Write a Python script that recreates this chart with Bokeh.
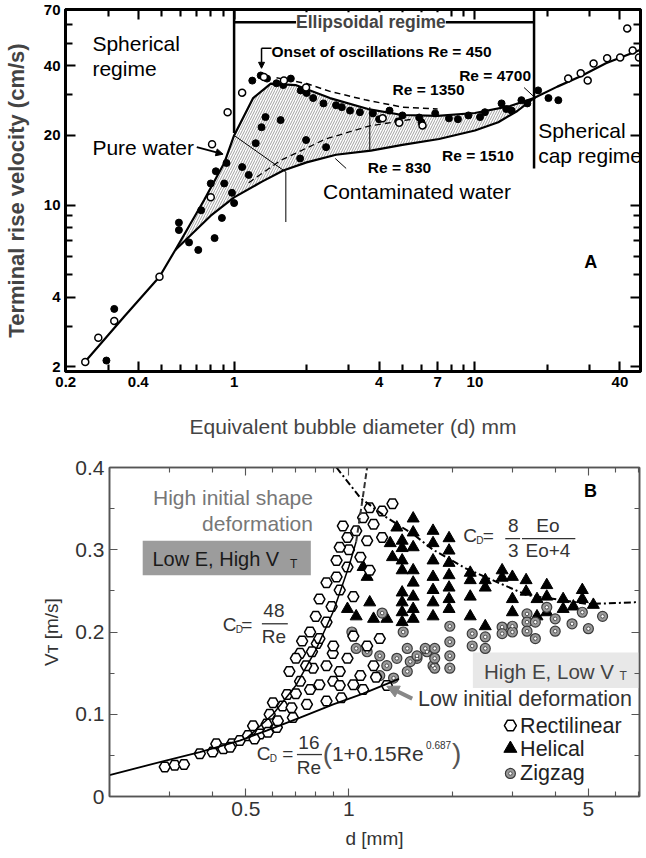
import numpy as np
from bokeh.plotting import figure
from bokeh.models import (LogAxis, LinearAxis, FixedTicker, Label, Arrow,
                          NormalHead, Range1d, CustomJSTickFormatter)
from bokeh.layouts import column
from bokeh.embed import file_html
from bokeh.resources import INLINE
from bokeh.core.properties import value

NARROW = "Liberation Sans Narrow, Liberation Sans, Arial"
SANS = "Liberation Sans, Arial"

# ---------------- Panel A data (d in mm, v in cm/s) ----------------
a_shared_d = [0.24, 0.35, 0.49, 0.57]
a_shared_v = [2.1, 3.3, 4.9, 6.4]
a_pure_d = [0.57, 0.75, 0.91, 1.0, 1.2, 1.42, 1.8, 2.5, 3.6, 5.0, 7.0, 10.0, 14.0, 17.6]
a_pure_v = [6.4, 10.5, 15.2, 20.0, 29.0, 33.5, 33.0, 29.0, 26.0, 24.5, 24.3, 25.0, 26.8, 29.0]
a_contam_d = [0.57, 0.8, 1.0, 1.3, 1.6, 2.0, 2.65, 3.7, 5.0, 7.1, 10.0, 12.5, 15.0, 17.6]
a_contam_v = [6.4, 9.0, 10.8, 12.6, 14.1, 15.3, 16.5, 17.2, 18.2, 19.3, 21.0, 22.8, 25.5, 29.0]
a_cap_d = [17.6, 22.0, 27.5, 35.0, 49.0]
a_cap_v = [29.0, 32.5, 36.0, 41.0, 47.0]
a_dash_top_d = [1.5, 2.0, 2.5, 3.5, 5.0, 7.0]
a_dash_top_v = [35.5, 33.5, 31.0, 28.5, 26.5, 26.0]
a_dash_mid_d = [1.15, 1.56, 2.4, 3.66, 5.5]
a_dash_mid_v = [12.5, 15.6, 19.3, 22.0, 23.5]

a_fill_d = [0.295, 0.318, 0.59, 0.59, 0.65, 0.71, 0.83, 0.73, 0.80, 0.91, 0.84, 0.93, 0.89, 1.0, 0.98,
            1.19, 1.29, 1.37, 1.50, 1.72, 1.89, 2.13, 2.35, 2.65, 3.03, 3.33,
            1.35, 1.56, 1.30, 1.23, 1.08, 1.15, 1.88, 2.41, 1.99,
            3.77, 4.42, 5.0, 5.87, 6.84, 7.8, 9.4, 11.0, 12.9, 14.2, 15.6,
            18.3, 20.2, 22.2,
            1.6, 2.0, 2.8, 4.0, 4.8, 6.0, 8.5, 10.5, 13.5, 16.5]
a_fill_v = [2.13, 3.56, 8.4, 7.8, 6.9, 6.4, 7.2, 9.5, 12.4, 12.4, 14.0, 15.2, 8.8, 10.2, 11.3,
            34.5, 36.3, 35.2, 33.6, 35.2, 31.3, 29.0, 27.5, 27.0, 25.6, 25.2,
            24.0, 23.3, 21.7, 18.5, 14.6, 13.5, 15.9, 17.8, 19.1,
            24.9, 25.6, 24.4, 23.9, 24.9, 23.7, 24.4, 25.2, 27.5, 25.6, 28.4,
            31.3, 29.0, 28.4,
            33.0, 30.5, 26.5, 23.5, 23.0, 22.8, 23.5, 24.0, 26.0, 27.5]
a_open_d = [0.241, 0.273, 0.318, 0.49, 0.80, 0.81, 1.08, 0.94, 1.33, 1.61, 1.99, 4.14, 6.06, 4.85,
            24.4, 27.5, 31.1, 35.4, 40.1, 45.2, 48.0, 42.9, 29.4]
a_open_v = [2.1, 2.67, 3.16, 4.9, 10.8, 18.3, 30.6, 25.2, 35.8, 34.5, 32.2, 23.7, 22.1, 22.7,
            35.2, 37.1, 40.9, 43.1, 43.4, 46.6, 43.4, 58.0, 34.5]

a_regime_d = [1.0, 17.6]
a_regime_end_v = [20.5, 14.4]
a_bracket_v = 61.6

xA_major = [0.2, 0.4, 1, 4, 7, 10, 40]
xA_minor = [0.3, 0.5, 0.6, 0.7, 0.8, 0.9, 2, 3, 5, 6, 8, 9, 20, 30]
yA_major = [2, 4, 10, 20, 40, 70]
yA_minor = [3, 5, 6, 7, 8, 9, 30, 50, 60]

# ---------------- Panel B data (d in mm, V in m/s) ----------------
b_rect_d = [0.29, 0.31, 0.33, 0.367, 0.40, 0.41, 0.43, 0.455, 0.48, 0.507, 0.525, 0.55, 0.575, 0.587,
            0.616, 0.60, 0.64, 0.66, 0.686, 0.67, 0.72, 0.754, 0.72, 0.785, 0.82, 0.86, 0.90, 0.94,
            0.806, 0.897, 1.03,
            1.34, 1.25, 1.15, 1.10, 1.18, 1.05, 0.99, 0.96, 1.13, 1.25, 1.0, 1.08, 0.94, 0.92, 0.99,
            1.15, 0.92, 0.86, 0.94, 1.03, 0.82, 0.89, 0.80, 0.86, 0.77, 0.82, 0.73, 0.78, 0.70, 0.75,
            0.90, 1.03, 1.13, 1.23, 0.99, 0.86, 1.08, 0.94, 1.29, 1.18,
            0.62, 0.68, 0.58, 0.53, 0.45, 0.70, 0.77, 0.95, 1.1, 1.2]
b_rect_v = [0.036, 0.038, 0.039, 0.052, 0.054, 0.064, 0.058, 0.064, 0.068, 0.074, 0.086, 0.076, 0.088, 0.10,
            0.084, 0.114, 0.11, 0.124, 0.096, 0.152, 0.14, 0.112, 0.174, 0.156, 0.136, 0.116, 0.14, 0.152,
            0.186, 0.174, 0.136,
            0.356, 0.347, 0.351, 0.339, 0.331, 0.323, 0.315, 0.329, 0.311, 0.315, 0.30, 0.291, 0.303, 0.287, 0.279,
            0.275, 0.267, 0.26, 0.251, 0.243, 0.24, 0.231, 0.219, 0.212, 0.20, 0.192, 0.189, 0.176, 0.168, 0.159,
            0.183, 0.195, 0.183, 0.192, 0.168, 0.159, 0.147, 0.135, 0.135, 0.159,
            0.092, 0.108, 0.078, 0.07, 0.06, 0.125, 0.13, 0.12, 0.13, 0.145]
b_helix_d = [1.43] * 8 + [1.54] * 8 + [1.76] * 7 + \
            [0.99, 1.05, 1.15, 1.29, 1.18, 1.10, 1.13, 1.32, 1.34, 1.38] + \
            [1.96] * 7 + [2.26] * 4 + [2.50] * 3 + [2.80] * 2 + [3.0] * 3 + [3.29] * 2 + \
            [3.54] * 2 + [3.78] * 3 + [4.22] * 2 + [4.52] + [4.80] * 2 + [5.17]
b_helix_v = [0.311, 0.302, 0.287, 0.275, 0.248, 0.236, 0.224, 0.212,
             0.338, 0.321, 0.303, 0.275, 0.26, 0.243, 0.228, 0.216,
             0.323, 0.308, 0.287, 0.267, 0.251, 0.236, 0.219,
             0.228, 0.219, 0.236, 0.216, 0.216, 0.279, 0.267, 0.308, 0.291, 0.327,
             0.314, 0.299, 0.284, 0.269, 0.254, 0.240, 0.228,
             0.272, 0.263, 0.243, 0.219,
             0.263, 0.254, 0.207,
             0.275, 0.266,
             0.267, 0.24, 0.224,
             0.263, 0.249,
             0.24, 0.219,
             0.257, 0.243, 0.224,
             0.24, 0.228,
             0.231,
             0.251, 0.24,
             0.233]
b_zig_d = [1.25, 1.02, 1.05, 1.13, 1.23, 1.29, 1.38, 1.48, 1.58, 1.48, 1.35, 1.23, 1.69, 1.76, 1.44,
           1.51, 1.67, 1.58,
           1.78, 1.78, 1.78, 1.97, 1.97, 1.97, 1.97, 2.29, 2.29, 2.50, 2.50, 2.80, 2.80, 3.0, 3.0,
           3.31, 3.31, 3.31, 3.5, 3.5, 3.78, 4.0, 4.0, 4.48, 4.8, 5.0, 5.5]
b_zig_v = [0.223, 0.20, 0.18, 0.176, 0.171, 0.159, 0.168, 0.18, 0.168, 0.152, 0.144, 0.147, 0.176, 0.159, 0.20,
           0.164, 0.18, 0.171,
           0.18, 0.168, 0.156, 0.207, 0.188, 0.171, 0.156, 0.198, 0.183, 0.194, 0.18, 0.206, 0.198, 0.207, 0.20,
           0.222, 0.212, 0.201, 0.212, 0.192, 0.23, 0.216, 0.201, 0.21, 0.224, 0.204, 0.219]

b_std_d = [0.2, 0.294, 0.367, 0.48, 0.575, 0.72, 0.9, 1.1, 1.4]
b_std_v = [0.026, 0.044, 0.054, 0.068, 0.080, 0.096, 0.112, 0.125, 0.143]
b_48_d = [0.5, 0.6, 0.7, 0.8, 0.9, 1.0, 1.05]
b_48_v = [0.07, 0.1, 0.135, 0.178, 0.225, 0.28, 0.31]
b_48dash_d = [1.05, 1.09, 1.13]
b_48dash_v = [0.31, 0.355, 0.40]
b_eo_d = [0.92, 1.08, 1.29, 1.55, 1.76, 2.2, 3.3, 5.0, 6.8, 7.0]
b_eo_v = [0.40, 0.363, 0.339, 0.318, 0.30, 0.277, 0.245, 0.234, 0.236, 0.237]

xB_major = [0.5, 1, 5]
xB_minor = [0.2, 0.3, 0.4, 0.6, 0.7, 0.8, 0.9, 2, 3, 4, 6, 7]
yB_major = [0, 0.1, 0.2, 0.3, 0.4]
yB_minor = [0.05, 0.15, 0.25, 0.35]

legend_labels = ["Rectilinear", "Helical", "Zigzag"]


def put(p, x, y, s, size, color="black", font=SANS, style="normal",
        align="left", baseline="middle", xo=0, yo=0):
    p.text(x=[x], y=[y], text=[s], text_font=value(font),
           text_font_size=value(f"{size}px"), text_font_style=value(style),
           text_color=color, text_align=value(align), text_baseline=value(baseline),
           x_offset=xo, y_offset=yo)


def style_axis(ax, lw, color, tin, tmin, font, fsize, fstyle, fcolor, standoff):
    ax.axis_line_width = lw
    ax.axis_line_color = color
    ax.major_tick_in = tin
    ax.major_tick_out = 0
    ax.minor_tick_in = tmin
    ax.minor_tick_out = 0
    ax.major_tick_line_width = lw * 0.7
    ax.minor_tick_line_width = lw * 0.7
    ax.major_tick_line_color = color
    ax.minor_tick_line_color = color
    ax.major_label_text_font = font
    ax.major_label_text_font_size = fsize
    ax.major_label_text_font_style = fstyle
    ax.major_label_text_color = fcolor
    ax.major_label_standoff = standoff


def hidden_axis(cls, ticks, minor, lw, color, tin, tmin):
    ax = cls(ticker=FixedTicker(ticks=ticks, minor_ticks=minor))
    style_axis(ax, lw, color, tin, tmin, SANS, "0px", "normal", None, 0)
    ax.formatter = CustomJSTickFormatter(code="return '';")
    return ax


def no_align(p):
    if "frame_align" in p.properties():
        p.frame_align = False


fmt = "return tick.toString();"

# ================= Panel A =================
pA = figure(width=646, height=440, x_axis_type="log", y_axis_type="log",
            x_range=Range1d(0.1995, 48.7), y_range=Range1d(1.91, 70.0),
            output_backend="svg", toolbar_location=None,
            min_border_left=60, min_border_right=6, min_border_top=9, min_border_bottom=68)
no_align(pA)
pA.grid.visible = False
pA.outline_line_color = "black"
pA.outline_line_width = 3

pA.xaxis.ticker = FixedTicker(ticks=xA_major, minor_ticks=xA_minor)
pA.yaxis.ticker = FixedTicker(ticks=yA_major, minor_ticks=yA_minor)
pA.xaxis.formatter = CustomJSTickFormatter(code=fmt)
pA.yaxis.formatter = CustomJSTickFormatter(code=fmt)
for ax in (pA.xaxis[0], pA.yaxis[0]):
    style_axis(ax, 3, "black", 10, 7, NARROW, "15px", "bold", "black", 5)
pA.xaxis.axis_label = "Equivalent bubble diameter (d) mm"
pA.xaxis.axis_label_text_font = SANS
pA.xaxis.axis_label_text_font_size = "21px"
pA.xaxis.axis_label_text_font_style = "normal"
pA.xaxis.axis_label_standoff = 25
pA.yaxis.axis_label = "Terminal rise velocity (cm/s)"
pA.yaxis.axis_label_text_font = SANS
pA.yaxis.axis_label_text_font_size = "22px"
pA.yaxis.axis_label_text_font_style = "bold"
pA.yaxis.axis_label_standoff = 12
pA.add_layout(hidden_axis(LogAxis, xA_major, xA_minor, 3, "black", 10, 7), "above")
pA.add_layout(hidden_axis(LogAxis, yA_major, yA_minor, 3, "black", 10, 7), "right")

# hatched band between pure and contaminated water
band_x = a_pure_d + a_contam_d[::-1]
band_y = a_pure_v + a_contam_v[::-1]
pA.patch(band_x, band_y, fill_alpha=0, line_alpha=0, hatch_pattern="/",
         hatch_color="#555555", hatch_scale=5, hatch_weight=0.7, hatch_alpha=0.8)

pure_x = a_shared_d + a_pure_d[1:] + a_cap_d[1:]
pure_y = a_shared_v + a_pure_v[1:] + a_cap_v[1:]
pA.line(pure_x, pure_y, line_color="black", line_width=2.2)
pA.line(a_contam_d, a_contam_v, line_color="black", line_width=2.2)
pA.line(a_dash_top_d, a_dash_top_v, line_color="black", line_width=1.5, line_dash="6 4")
pA.line(a_dash_mid_d, a_dash_mid_v, line_color="black", line_width=1.3, line_dash="6 4")

pA.scatter(a_fill_d, a_fill_v, marker="circle", size=7, fill_color="black", line_color="black")
pA.scatter(a_open_d, a_open_v, marker="circle", size=7, fill_color="white", line_color="black", line_width=1.5)

# regime boundaries
pA.segment(x0=a_regime_d, y0=[70, 70], x1=a_regime_d, y1=a_regime_end_v, line_color="black", line_width=2.5)
pA.segment(x0=[a_regime_d[0]], y0=[a_bracket_v], x1=[a_regime_d[1]], y1=[a_bracket_v],
           line_color="black", line_width=2.5)
pA.add_layout(Label(x=3.7, y=a_bracket_v, text="Ellipsoidal regime", text_align="center",
                    text_baseline="middle", text_font=NARROW, text_font_style="bold",
                    text_font_size="17.5px", background_fill_color="white"))
# thin guide lines
pA.line([1.0, 1.64, 1.64], [20.0, 13.9, 8.45], line_color="black", line_width=1)
pA.line([3.66, 3.66], [26.5, 17.2], line_color="black", line_width=1)
pA.line([2.92, 2.63], [14.4, 15.9], line_color="black", line_width=1)
pA.line([16.0, 17.9], [32.2, 28.9], line_color="black", line_width=1)

# onset bracket and pure-water pointer
pA.line([1.43, 1.30], [47.6, 47.6], line_color="black", line_width=1.5)
pA.add_layout(Arrow(end=NormalHead(size=6, fill_color="black", line_color="black"),
                    x_start=1.30, y_start=47.6, x_end=1.30, y_end=39.0, line_width=1.5))
pA.add_layout(Arrow(end=NormalHead(size=7, fill_color="black", line_color="black"),
                    x_start=0.70, y_start=17.8, x_end=0.90, y_end=16.6, line_width=2))

put(pA, 1.43, 46.0, "Onset of oscillations Re = 450", 15.5, font=NARROW, style="bold")
put(pA, 8.6, 36.3, "Re = 4700", 15.5, font=NARROW, style="bold")
put(pA, 4.55, 31.6, "Re = 1350", 15.5, font=NARROW, style="bold")
put(pA, 3.59, 14.6, "Re = 830", 15.5, font=NARROW, style="bold")
put(pA, 7.3, 16.3, "Re = 1510", 15.5, font=NARROW, style="bold")
put(pA, 0.258, 49.9, "Spherical", 21)
put(pA, 0.258, 38.9, "regime", 21)
put(pA, 0.258, 17.8, "Pure water", 21)
put(pA, 2.34, 11.4, "Contaminated water", 21)
put(pA, 18.3, 21.0, "Spherical", 21)
put(pA, 18.3, 16.4, "cap regime", 21)
put(pA, 30.3, 5.67, "A", 18, style="bold", align="center")

# ================= Panel B =================
pB = figure(width=646, height=418, x_axis_type="log",
            x_range=Range1d(0.2, 7.05), y_range=Range1d(0, 0.4),
            output_backend="svg", toolbar_location=None,
            min_border_left=109, min_border_right=7, min_border_top=27, min_border_bottom=62)
no_align(pB)
pB.grid.visible = False
pB.outline_line_color = "#555555"
pB.outline_line_width = 1.5
pB.xaxis.ticker = FixedTicker(ticks=xB_major, minor_ticks=xB_minor)
pB.yaxis.ticker = FixedTicker(ticks=yB_major, minor_ticks=yB_minor)
pB.xaxis.formatter = CustomJSTickFormatter(code=fmt)
pB.yaxis.formatter = CustomJSTickFormatter(code=fmt)
for ax in (pB.xaxis[0], pB.yaxis[0]):
    style_axis(ax, 1.6, "#555555", 8, 5, SANS, "21px", "normal", "#333333", 5)
pB.xaxis.axis_label = "d [mm]"
pB.yaxis.axis_label = "V\u1d1b [m/s]"
for ax in (pB.xaxis[0], pB.yaxis[0]):
    ax.axis_label_text_font = SANS
    ax.axis_label_text_font_size = "19px"
    ax.axis_label_text_font_style = "normal"
    ax.axis_label_text_color = "#333333"
pB.xaxis.axis_label_standoff = 9
pB.yaxis.axis_label_standoff = 10
pB.add_layout(hidden_axis(LogAxis, xB_major, xB_minor, 1.6, "#555555", 8, 5), "above")
pB.add_layout(hidden_axis(LinearAxis, yB_major, yB_minor, 1.6, "#555555", 8, 5), "right")

# label boxes
pB.quad(left=[0.25], right=[0.774], bottom=[0.269], top=[0.311], fill_color="#9c9c9c", line_alpha=0)
pB.quad(left=[2.30], right=[7.05], bottom=[0.132], top=[0.175], fill_color="#e8e8e8", line_alpha=0)

# data
pB.scatter(b_helix_d, b_helix_v, marker="triangle", size=12, fill_color="black", line_color="black")
pB.scatter(b_zig_d, b_zig_v, marker="circle", size=10, fill_color="#9a9a9a", line_color="#3a3a3a", line_width=1.2)
pB.scatter(b_zig_d, b_zig_v, marker="circle", size=3.5, fill_color="white", line_color="#3a3a3a", line_width=0.8)
pB.scatter(b_rect_d, b_rect_v, marker="hex", size=11, fill_color="white", line_color="black", line_width=1.5)

# model curves
pB.line(b_std_d, b_std_v, line_color="black", line_width=1.8)
pB.line(b_48_d, b_48_v, line_color="black", line_width=1.5)
pB.line(b_48dash_d, b_48dash_v, line_color="#333333", line_width=2, line_dash="6 3")
pB.line(b_eo_d, b_eo_v, line_color="black", line_width=2, line_dash="7 3 2 3")

pB.add_layout(Arrow(end=NormalHead(size=12, fill_color="#888888", line_color="#888888"),
                    x_start=1.53, y_start=0.119, x_end=1.29, y_end=0.134,
                    line_color="#888888", line_width=4))

GRAY = "#777777"
put(pB, 0.785, 0.363, "High initial shape", 21, color=GRAY, align="right")
put(pB, 0.785, 0.332, "deformation", 21, color=GRAY, align="right")
put(pB, 0.267, 0.289, "Low E, High V", 20, color="#1a1a1a")
put(pB, 0.673, 0.283, "T", 12, color="#1a1a1a")
put(pB, 2.48, 0.152, "High E, Low V", 20.5, color="#444444")
put(pB, 6.16, 0.147, "T", 12, color="#444444")
put(pB, 1.59, 0.118, "Low initial deformation", 21.5, color="#333333")
put(pB, 5.07, 0.371, "B", 18, style="bold", align="center")

# C_D = 48/Re
put(pB, 0.428, 0.209, "C", 19, color="#333333")
put(pB, 0.428, 0.209, "D", 10, color="#333333", xo=13, yo=5)
put(pB, 0.503, 0.209, "=", 19, color="#333333", align="center")
put(pB, 0.604, 0.226, "48", 19, color="#333333", align="center")
put(pB, 0.604, 0.194, "Re", 19, color="#333333", align="center")
pB.line([0.557, 0.663], [0.210, 0.210], line_color="#333333", line_width=1.3)

# C_D = 8/3 Eo/(Eo+4)
put(pB, 2.155, 0.317, "C", 19, color="#333333")
put(pB, 2.155, 0.317, "D", 10, color="#333333", xo=13, yo=5)
put(pB, 2.55, 0.317, "=", 19, color="#333333", align="center")
put(pB, 3.02, 0.329, "8", 19, color="#333333", align="center")
put(pB, 3.02, 0.299, "3", 19, color="#333333", align="center")
pB.line([2.86, 3.16], [0.3135, 0.3135], line_color="#333333", line_width=1.3)
put(pB, 3.81, 0.329, "Eo", 19, color="#333333", align="center")
put(pB, 3.81, 0.299, "Eo+4", 19, color="#333333", align="center")
pB.line([3.2, 4.58], [0.3135, 0.3135], line_color="#333333", line_width=1.3)

# C_D = 16/Re (1+0.15Re^0.687)
put(pB, 0.538, 0.052, "C", 19, color="#333333")
put(pB, 0.538, 0.052, "D", 10, color="#333333", xo=13, yo=5)
put(pB, 0.663, 0.052, "=", 19, color="#333333", align="center")
put(pB, 0.764, 0.066, "16", 19, color="#333333", align="center")
put(pB, 0.764, 0.035, "Re", 19, color="#333333", align="center")
pB.line([0.705, 0.834], [0.051, 0.051], line_color="#333333", line_width=1.3)
put(pB, 0.839, 0.052, "(", 28, color="#555555")
put(pB, 0.892, 0.052, "1+0.15Re", 21, color="#333333")
put(pB, 1.68, 0.063, "0.687", 10, color="#333333")
put(pB, 2.0, 0.052, ")", 28, color="#555555")

# legend
leg_d = 2.96
leg_v = [0.0863, 0.0583, 0.028]
pB.scatter([leg_d], [leg_v[0]], marker="hex", size=12, fill_color="white", line_color="black", line_width=1.5)
pB.scatter([leg_d], [leg_v[1]], marker="triangle", size=13, fill_color="black", line_color="black")
pB.scatter([leg_d], [leg_v[2]], marker="circle", size=10, fill_color="#9a9a9a", line_color="#3a3a3a", line_width=1.2)
pB.scatter([leg_d], [leg_v[2]], marker="circle", size=3.5, fill_color="white", line_color="#3a3a3a", line_width=0.8)
for lab, vv in zip(legend_labels, leg_v):
    put(pB, 3.16, vv, lab, 21.5, color="#222222")

layout = column(pA, pB)
open("out.html", "w").write(file_html(layout, INLINE))
